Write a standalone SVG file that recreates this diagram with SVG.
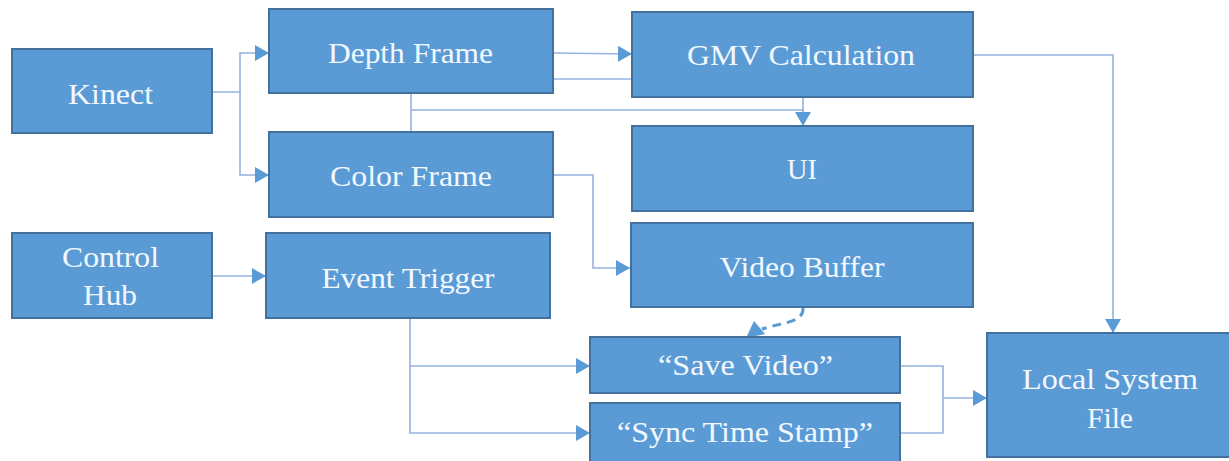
<svg xmlns="http://www.w3.org/2000/svg" width="1229" height="461" viewBox="0 0 1229 461">
<style>
.box{fill:#5B9BD5;stroke:#41719C;stroke-width:2}
.lbl{font-size:30px;fill:#F2F8FF;text-anchor:middle}
.ln{fill:none;stroke:#94B3DE;stroke-width:1.6}
.dash{fill:none;stroke:#5B9BD5;stroke-width:3;stroke-dasharray:9 6}
</style>
<defs>
<marker id="ah" viewBox="0 0 14 16" refX="14" refY="8" markerWidth="14" markerHeight="16" markerUnits="userSpaceOnUse" orient="auto">
<path d="M0,0 L14,8 L0,16 z" fill="#5B9BD5"/>
</marker>
</defs>
<rect width="1229" height="461" fill="#FFFFFF"/>
<g id="connectors">
<polyline class="ln" points="212,92 240,92 240,53 269,53" marker-end="url(#ah)"/>
<polyline class="ln" points="240,92 240,175 269,175" marker-end="url(#ah)"/>
<line class="ln" x1="553" y1="53" x2="632" y2="54" marker-end="url(#ah)"/>
<line class="ln" x1="553" y1="79" x2="632" y2="79"/>
<line class="ln" x1="411" y1="93" x2="411" y2="132"/>
<polyline class="ln" points="411,110 803,110 803,126" marker-end="url(#ah)"/>
<line class="ln" x1="803" y1="97" x2="803" y2="112"/>
<polyline class="ln" points="973,55 1113,55 1113,333" marker-end="url(#ah)"/>
<polyline class="ln" points="553,175 593,175 593,268 630,268" marker-end="url(#ah)"/>
<line class="ln" x1="212" y1="276" x2="266" y2="276" marker-end="url(#ah)"/>
<polyline class="ln" points="410,318 410,366 590,366" marker-end="url(#ah)"/>
<polyline class="ln" points="410,366 410,433 590,433" marker-end="url(#ah)"/>
<polyline class="ln" points="900,366 943,366 943,433 900,433"/>
<line class="ln" x1="943" y1="398" x2="987" y2="398" marker-end="url(#ah)"/>
<path class="dash" d="M803,308 C804,322 785,322 762,329"/>
<path d="M746,338 L754,321 L765,334 z" fill="#5B9BD5"/>
</g>
<g font-family="'Liberation Serif', 'Times New Roman', serif">
<g id="kinect"><rect class="box" x="12" y="49" width="200" height="84"/><text class="lbl" font-family="'Liberation Serif', serif" x="110.5" y="104" textLength="85" lengthAdjust="spacingAndGlyphs">Kinect</text></g>
<g id="depth-frame"><rect class="box" x="269" y="9" width="284" height="84"/><text class="lbl" font-family="'Liberation Serif', serif" x="410.5" y="63" textLength="165" lengthAdjust="spacingAndGlyphs">Depth Frame</text></g>
<g id="color-frame"><rect class="box" x="269" y="132" width="284" height="85"/><text class="lbl" font-family="'Liberation Serif', serif" x="411" y="186" textLength="162" lengthAdjust="spacingAndGlyphs">Color Frame</text></g>
<g id="gmv"><rect class="box" x="632" y="12" width="341" height="85"/><text class="lbl" font-family="'Liberation Serif', serif" x="801" y="65" textLength="228" lengthAdjust="spacingAndGlyphs">GMV Calculation</text></g>
<g id="ui"><rect class="box" x="632" y="126" width="341" height="85"/><text class="lbl" font-family="'Liberation Serif', serif" x="802" y="179" textLength="30" lengthAdjust="spacingAndGlyphs">UI</text></g>
<g id="video-buffer"><rect class="box" x="631" y="223" width="342" height="84"/><text class="lbl" font-family="'Liberation Serif', serif" x="802" y="277" textLength="165" lengthAdjust="spacingAndGlyphs">Video Buffer</text></g>
<g id="control-hub"><rect class="box" x="12" y="233" width="200" height="85"/><text class="lbl" font-family="'Liberation Serif', serif" x="110.5" y="267" textLength="97" lengthAdjust="spacingAndGlyphs">Control</text><text class="lbl" font-family="'Liberation Serif', serif" x="110" y="305" textLength="54" lengthAdjust="spacingAndGlyphs">Hub</text></g>
<g id="event-trigger"><rect class="box" x="266" y="233" width="284" height="85"/><text class="lbl" font-family="'Liberation Serif', serif" x="408" y="288" textLength="173" lengthAdjust="spacingAndGlyphs">Event Trigger</text></g>
<g id="save-video"><rect class="box" x="590" y="337" width="310" height="56"/><text class="lbl" font-family="'Liberation Serif', serif" x="745.5" y="375" textLength="175" lengthAdjust="spacingAndGlyphs">“Save Video”</text></g>
<g id="sync-time-stamp"><rect class="box" x="590" y="403" width="310" height="62"/><text class="lbl" font-family="'Liberation Serif', serif" x="745" y="442" textLength="256" lengthAdjust="spacingAndGlyphs">“Sync Time Stamp”</text></g>
<g id="local-system-file"><rect class="box" x="987" y="333" width="246" height="124"/><text class="lbl" font-family="'Liberation Serif', serif" x="1110" y="389" textLength="176" lengthAdjust="spacingAndGlyphs">Local System</text><text class="lbl" font-family="'Liberation Serif', serif" x="1110" y="428" textLength="46" lengthAdjust="spacingAndGlyphs">File</text></g>
</g>
</svg>
